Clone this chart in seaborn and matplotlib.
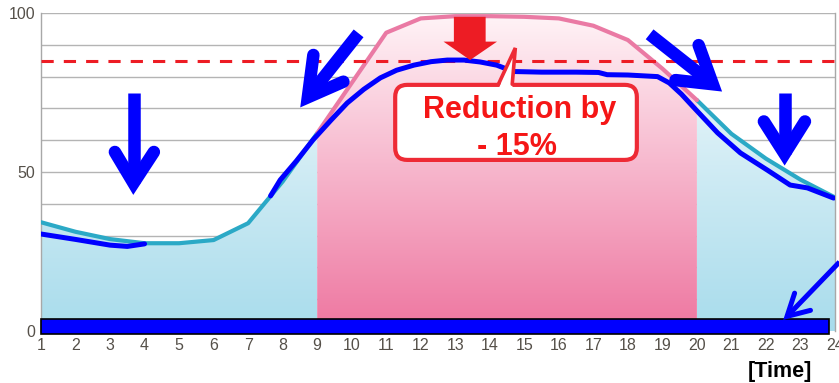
import numpy as np
import matplotlib
matplotlib.use('Agg')
import matplotlib.pyplot as plt
from matplotlib.colors import LinearSegmentedColormap
from matplotlib.patches import FancyBboxPatch, Polygon, Rectangle
import seaborn as sns

# load curve (hour -> % of contract)
hours = np.arange(1, 25)
load = np.array([34.2, 31.2, 28.9, 27.6, 27.6, 28.6, 33.9, 47.0, 62.2, 78.0, 93.8, 98.3,
                 99.0, 99.0, 98.8, 98.3, 96.0, 91.5, 82.5, 72.6, 62.0, 54.2, 47.6, 42.0])
peak_start, peak_end = 9, 20

# hand drawn "reduced" curve
night_x = [1.0, 2.0, 3.0, 3.5, 4.0]
night_y = [30.5, 28.8, 27.0, 26.6, 27.4]
day_x = [7.65, 7.93, 8.4, 8.88, 9.4, 9.87, 10.35, 10.83, 11.3, 11.8, 12.3, 12.77, 13.25, 13.72,
         14.2, 14.68, 15.5, 16.5, 17.15, 17.4, 18.0, 18.86, 19.2, 19.55, 19.9, 20.6, 21.26,
         22.04, 22.7, 23.2, 23.96]
day_y = [42.5, 47.5, 53.5, 60.1, 66.3, 71.7, 76.0, 79.6, 82.0, 83.6, 84.7, 85.2, 85.2, 84.6,
         83.6, 81.6, 81.4, 81.4, 81.3, 80.6, 80.5, 80.0, 78.0, 74.5, 70.4, 62.3, 56.0,
         50.6, 45.9, 45.0, 41.8]

target = 85
y_labels = [0, 50, 100]
annot_lines = ['Reduction by', '- 15%']
x_label = '[Time]'

cyan = '#2ba9c6'
pink = '#ea7aa4'
blue = '#0000ff'
red = '#ed1c24'

sns.set_style('white')
plt.rcParams['font.family'] = ['Liberation Sans', 'DejaVu Sans']

fig = plt.figure(figsize=(8.39, 3.83), dpi=100)
ax = fig.add_axes([41 / 839, 1 - 331 / 383, 794 / 839, 318 / 383])


def gradient_fill(ax, x, y, c_bottom, c_top, y_top):
    poly = ax.fill_between(x, 0, y, facecolor='none', lw=0)
    cmap = LinearSegmentedColormap.from_list('g', [c_bottom, c_top])
    im = ax.imshow(np.linspace(0, 1, 256).reshape(-1, 1), cmap=cmap, aspect='auto',
                   origin='lower', extent=[x[0], x[-1], 0, y_top], zorder=1)
    im.set_clip_path(poly.get_paths()[0], transform=ax.transData)


i0, i1 = peak_start - 1, peak_end - 1
gradient_fill(ax, hours[:i0 + 1], load[:i0 + 1], '#a8dcec', '#e3f3f8', 75)
gradient_fill(ax, hours[i1:], load[i1:], '#a8dcec', '#e3f3f8', 75)
gradient_fill(ax, hours[i0:i1 + 1], load[i0:i1 + 1], '#ee76a0', '#fff4f7', 100)

sns.lineplot(x=hours[:i0 + 1], y=load[:i0 + 1], color=cyan, lw=3, ax=ax, zorder=3)
sns.lineplot(x=hours[i1:], y=load[i1:], color=cyan, lw=3, ax=ax, zorder=3)
sns.lineplot(x=hours[i0:i1 + 1], y=load[i0:i1 + 1], color=pink, lw=3, ax=ax, zorder=3)

ax.axhline(target, color=red, lw=2.2, dashes=(4, 3.3), zorder=4)

sns.lineplot(x=night_x, y=night_y, sort=False, color=blue, lw=3.6, ax=ax, zorder=5,
             solid_capstyle='round')
sns.lineplot(x=day_x, y=day_y, sort=False, color=blue, lw=3.6, ax=ax, zorder=5,
             solid_capstyle='round')

# red block arrow
ax.add_patch(Polygon([(12.96, 98.8), (13.88, 98.8), (13.88, 91.0), (14.21, 91.0), (13.43, 85.2),
                      (12.66, 91.0), (12.96, 91.0)], closed=True, facecolor=red, lw=0, zorder=6))

# callout box
ax.add_patch(FancyBboxPatch((11.26, 53.8), 18.26 - 11.26, 77.4 - 53.8,
                            boxstyle='round,pad=0,rounding_size=0.35', mutation_aspect=10.8,
                            facecolor='white', edgecolor='#ee2a35', lw=3, zorder=7))
ax.add_patch(Polygon([(14.25, 76.0), (14.74, 89.0), (14.65, 76.0)], closed=True,
                     facecolor='white', lw=0, zorder=8))
ax.plot([14.25, 14.74, 14.65], [77.6, 89.0, 77.6], color='#ee2a35', lw=2.6, zorder=8,
        solid_joinstyle='miter')
ax.text(14.86, 66.9, annot_lines[0], ha='center', va='baseline', fontsize=22,
        fontweight='bold', color='#f51616', zorder=9)
ax.text(14.79, 55.3, annot_lines[1], ha='center', va='baseline', fontsize=22,
        fontweight='bold', color='#f51616', zorder=9)


def hand_arrow(tail, vertex, arm_a, arm_b, lw):
    ax.plot([tail[0], vertex[0]], [tail[1], vertex[1]], color=blue, lw=lw,
            solid_capstyle='butt', zorder=10, clip_on=False)
    ax.plot([arm_a[0], vertex[0], arm_b[0]], [arm_a[1], vertex[1], arm_b[1]], color=blue,
            lw=lw, solid_capstyle='round', solid_joinstyle='miter', zorder=10, clip_on=False)


hand_arrow((3.68, 74.8), (3.68, 46.5), (3.14, 56.3), (4.27, 56.3), 9)
hand_arrow((22.54, 74.8), (22.54, 55.7), (21.94, 65.9), (23.13, 65.9), 9)
hand_arrow((10.2, 93.6), (8.73, 73.5), (8.89, 86.8), (9.76, 78.4), 9)
hand_arrow((18.63, 93.3), (20.46, 77.6), (20.05, 89.9), (19.38, 78.9), 9)
hand_arrow((24.13, 21.7), (22.61, 4.6), (22.83, 11.9), (23.29, 6.5), 3.6)

# blue bar on the time axis
ax.add_patch(Rectangle((1, -0.94), 22.84, 4.71, facecolor=blue, edgecolor='black', lw=1.2,
                       zorder=6, clip_on=False))

ax.set_xlim(1, 24)
ax.set_ylim(0, 100)
ax.set_xticks(hours)
ax.set_xticklabels([str(h) for h in hours])
yt = np.arange(0, 101, 10)
ax.set_yticks(yt)
ax.set_yticklabels([str(v) if v in y_labels else '' for v in yt])
ax.yaxis.grid(True, color='#b4b4b4', lw=1.0, zorder=0)
ax.xaxis.grid(False)
ax.set_axisbelow(True)
ax.tick_params(axis='both', length=0, labelsize=11.5, labelcolor='#555049')
ax.tick_params(axis='x', pad=5)
ax.tick_params(axis='y', pad=4)
for side in ['top', 'bottom']:
    ax.spines[side].set_visible(False)
for side in ['left', 'right']:
    ax.spines[side].set_color('#a8a8a8')
    ax.spines[side].set_linewidth(1.0)
ax.set_xlabel('')
ax.set_ylabel('')

fig.text(780 / 839, 1 - 371 / 383, x_label, ha='center', va='center', fontsize=15.5,
         fontweight='bold', color='black')

fig.savefig('out.png', dpi=100)
